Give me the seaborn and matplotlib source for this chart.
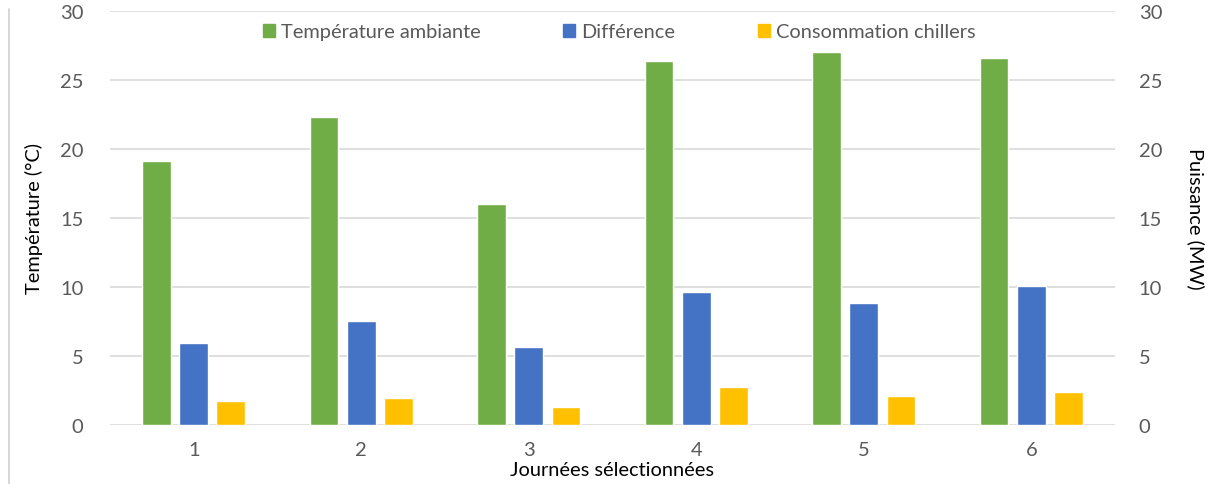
import matplotlib
matplotlib.use("Agg")
import matplotlib.pyplot as plt
from matplotlib.lines import Line2D
import pandas as pd
import seaborn as sns

# Data per selected day
days = ["1", "2", "3", "4", "5", "6"]
temperature_ambiante = [19.1, 22.3, 16.0, 26.4, 27.0, 26.6]
difference = [5.95, 7.55, 5.65, 9.6, 8.8, 10.05]
consommation_chillers = [1.7, 1.95, 1.25, 2.7, 2.05, 2.4]

series_names = ["Température ambiante", "Différence", "Consommation chillers"]
series_colors = ["#70AD47", "#4472C4", "#FFC000"]
y_ticks = [0, 5, 10, 15, 20, 25, 30]

df = pd.DataFrame({
    "jour": days * 3,
    "valeur": temperature_ambiante + difference + consommation_chillers,
    "serie": [series_names[0]] * 6 + [series_names[1]] * 6 + [series_names[2]] * 6,
})

sns.set_theme(style="white")
plt.rcParams["font.family"] = ["Lato", "DejaVu Sans"]

text_color = "#595959"
grid_color = "#D9D9D9"
tick_size = 14.5
label_size = 14.4

fig = plt.figure(figsize=(12.07, 4.85), dpi=100)
ax = fig.add_axes([0.0911, 0.1222, 0.8327, 0.8531])

sns.barplot(data=df, x="jour", y="valeur", hue="serie", hue_order=series_names,
            palette=series_colors, width=0.666, gap=0.225, saturation=1,
            ax=ax, legend=False)

ax.set_xlim(-0.5, 5.5)
ax.set_ylim(0, 30)
ax.set_yticks(y_ticks)
ax.yaxis.grid(True, color=grid_color, linewidth=1.2)
ax.set_axisbelow(True)
for s in ["top", "right", "left", "bottom"]:
    ax.spines[s].set_visible(False)
ax.tick_params(axis="x", length=0, labelsize=tick_size, labelcolor=text_color, pad=12)
ax.tick_params(axis="y", length=0, labelsize=tick_size, labelcolor=text_color, pad=19)
ax.set_ylabel("Température (°C)", fontsize=label_size, color="black", labelpad=12)
ax.set_xlabel("Journées sélectionnées", fontsize=label_size, color="black", labelpad=2)

# Secondary power axis on the same scale
ax2 = ax.twinx()
ax2.set_ylim(0, 30)
ax2.set_yticks(y_ticks)
for s in ["top", "right", "left", "bottom"]:
    ax2.spines[s].set_visible(False)
ax2.tick_params(axis="y", length=0, labelsize=tick_size, labelcolor=text_color, pad=17)
ax2.set_ylabel("Puissance (MW)", fontsize=label_size, color="black", rotation=-90,
               labelpad=31)

handles = [plt.Rectangle((0, 0), 1, 1, color=c) for c in series_colors]
fig.legend(handles, series_names, loc="center", bbox_to_anchor=(0.513, 0.932),
           ncol=3, frameon=False, fontsize=label_size, labelcolor=text_color,
           handlelength=0.6, handleheight=0.6, handletextpad=0.3,
           columnspacing=4.15)

# Outer chart border on the left
fig.add_artist(Line2D([0.0075, 0.0075], [0.0, 0.98], color="#D0D0D0",
                      linewidth=1.2, transform=fig.transFigure))

fig.savefig("out.png", dpi=100)
